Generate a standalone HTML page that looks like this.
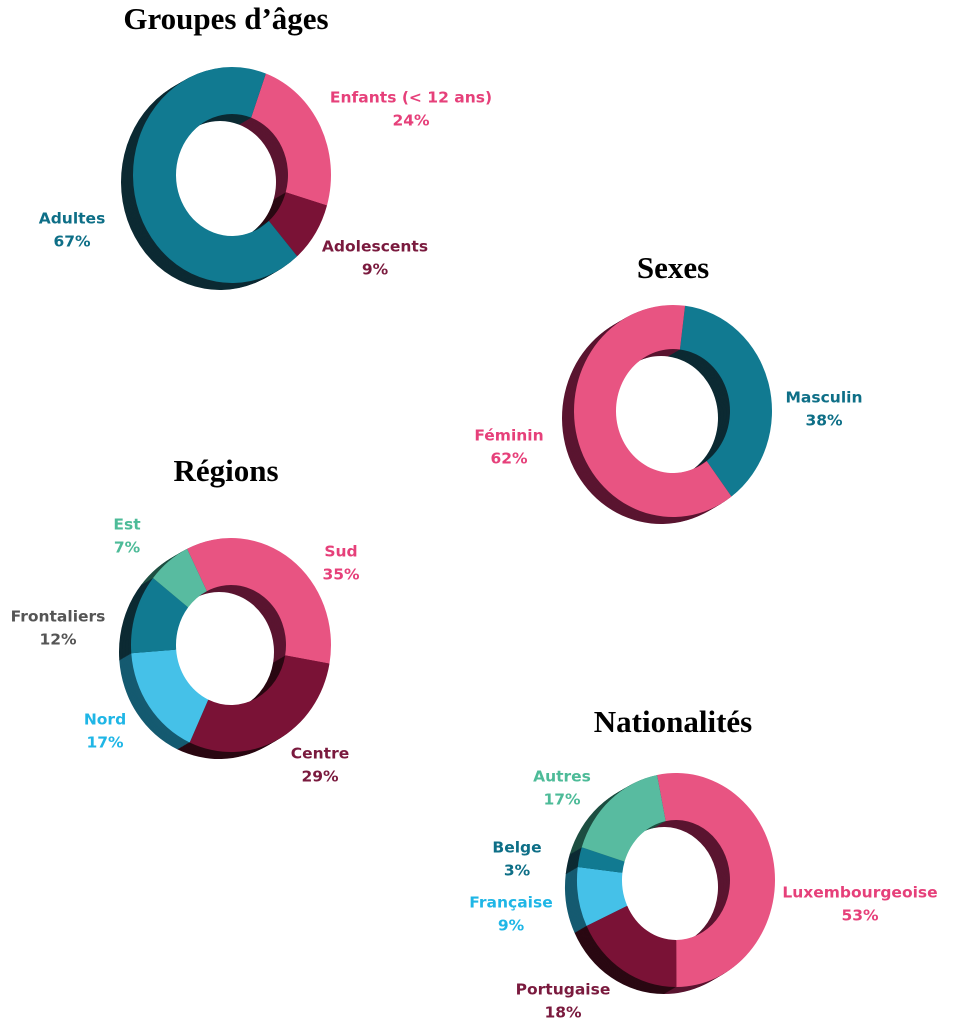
<!DOCTYPE html>
<html><head><meta charset="utf-8">
<style>
body{margin:0;background:#fff;}
svg{display:block;}
.t{font-family:"Liberation Serif",serif;font-weight:bold;font-size:31px;fill:#000;text-anchor:middle;}
.l{font-family:"DejaVu Sans","Liberation Sans",sans-serif;font-weight:bold;font-size:15.5px;text-anchor:middle;dominant-baseline:middle;}
</style></head>
<body>
<svg id="s" width="961" height="1024" viewBox="0 0 961 1024" xmlns="http://www.w3.org/2000/svg">
<text class="t" x="226" y="29">Groupes d’âges</text>
<text class="t" x="673" y="278">Sexes</text>
<text class="t" x="226" y="481">Régions</text>
<text class="t" x="673" y="732">Nationalités</text>
</svg>
<script>
const ageLabels=["Enfants (< 12 ans)","Adolescents","Adultes"];
const ageValues=[24,9,67];
const sexLabels=["Masculin","Féminin"];
const sexValues=[38,62];
const regionLabels=["Sud","Centre","Nord","Frontaliers","Est"];
const regionValues=[35,29,17,12,7];
const natLabels=["Luxembourgeoise","Portugaise","Française","Belge","Autres"];
const natValues=[53,18,9,3,17];

const C={teal:["#117a91","#0c2a33","#0e6f87"],pink:["#e85482","#5a1530","#e6407a"],mar:["#7a1236","#2a0812","#7a1a3e"],
blue:["#45c1e8","#155a70","#1fb6e6"],green:["#58bba0","#1e4f42","#4dbb98"],grey:["#117a91","#0c2a33","#555555"]};
const NS="http://www.w3.org/2000/svg";
const svg=document.getElementById('s');
function el(t,a){const e=document.createElementNS(NS,t);for(const k in a)e.setAttribute(k,a[k]);return e;}
function pt(cx,cy,rx,ry,a){const r=a*Math.PI/180;return [cx+rx*Math.sin(r),cy-ry*Math.cos(r)];}
function seg(cx,cy,rx,ry,irx,iry,a0,a1){
  const lg=(a1-a0)>180?1:0;
  const p0=pt(cx,cy,rx,ry,a0),p1=pt(cx,cy,rx,ry,a1),q1=pt(cx,cy,irx,iry,a1),q0=pt(cx,cy,irx,iry,a0);
  return `M${p0[0]},${p0[1]}A${rx},${ry} 0 ${lg} 1 ${p1[0]},${p1[1]}L${q1[0]},${q1[1]}A${irx},${iry} 0 ${lg} 0 ${q0[0]},${q0[1]}Z`;
}
function donut(name,labels,values,cols,g,lab){
  const total=values.reduce((a,b)=>a+b,0);
  const grp=el('g',{});
  
  
  svg.appendChild(grp);
  const N=16;
  for(let k=N;k>=0;k--){
    const t=k/N;const cx=g.cx+g.dx*t,cy=g.cy+g.dy*t;
    let a=g.start;
    values.forEach((v,i)=>{
      const sw=v/total*360;
      const p=el('path',{d:seg(cx,cy,g.rx,g.ry,g.irx,g.iry,a,a+sw+(k?0.3:0)),fill:k?C[cols[i]][1]:C[cols[i]][0]});
      if(k===0){
        
        
      }
      grp.appendChild(p);
      a+=sw;
    });
  }
  labels.forEach((L,i)=>{
    const [x,y]=lab[i];
    const tx=el('text',{class:'l',x:x,y:y,fill:C[cols[i]][2]});
    tx.textContent=L;
    
    
    svg.appendChild(tx);
    const tv=el('text',{class:'l',x:x,y:y+23,fill:C[cols[i]][2]});
    tv.textContent=values[i]+'%';
    
    
    svg.appendChild(tv);
  });
}
donut('age-groups',ageLabels,ageValues,['pink','mar','teal'],
 {cx:232,cy:175,rx:99,ry:108,irx:56,iry:61,dx:-12,dy:7,start:20},
 [[411,98],[375,247],[72,219]]);
donut('sexes',sexLabels,sexValues,['teal','pink'],
 {cx:673,cy:411,rx:99,ry:106,irx:57,iry:62,dx:-12,dy:7,start:7},
 [[824,398],[509,436]]);
donut('regions',regionLabels,regionValues,['pink','mar','blue','grey','green'],
 {cx:231,cy:645,rx:100,ry:107,irx:55,iry:60,dx:-12,dy:7,start:-26},
 [[341,552],[320,754],[105,720],[58,617],[127,525]]);
donut('nationalities',natLabels,natValues,['pink','mar','blue','teal','green'],
 {cx:676,cy:880,rx:99,ry:107,irx:54,iry:60,dx:-12,dy:7,start:-11},
 [[860,893],[563,990],[511,903],[517,848],[562,777]]);
</script>
</body></html>
